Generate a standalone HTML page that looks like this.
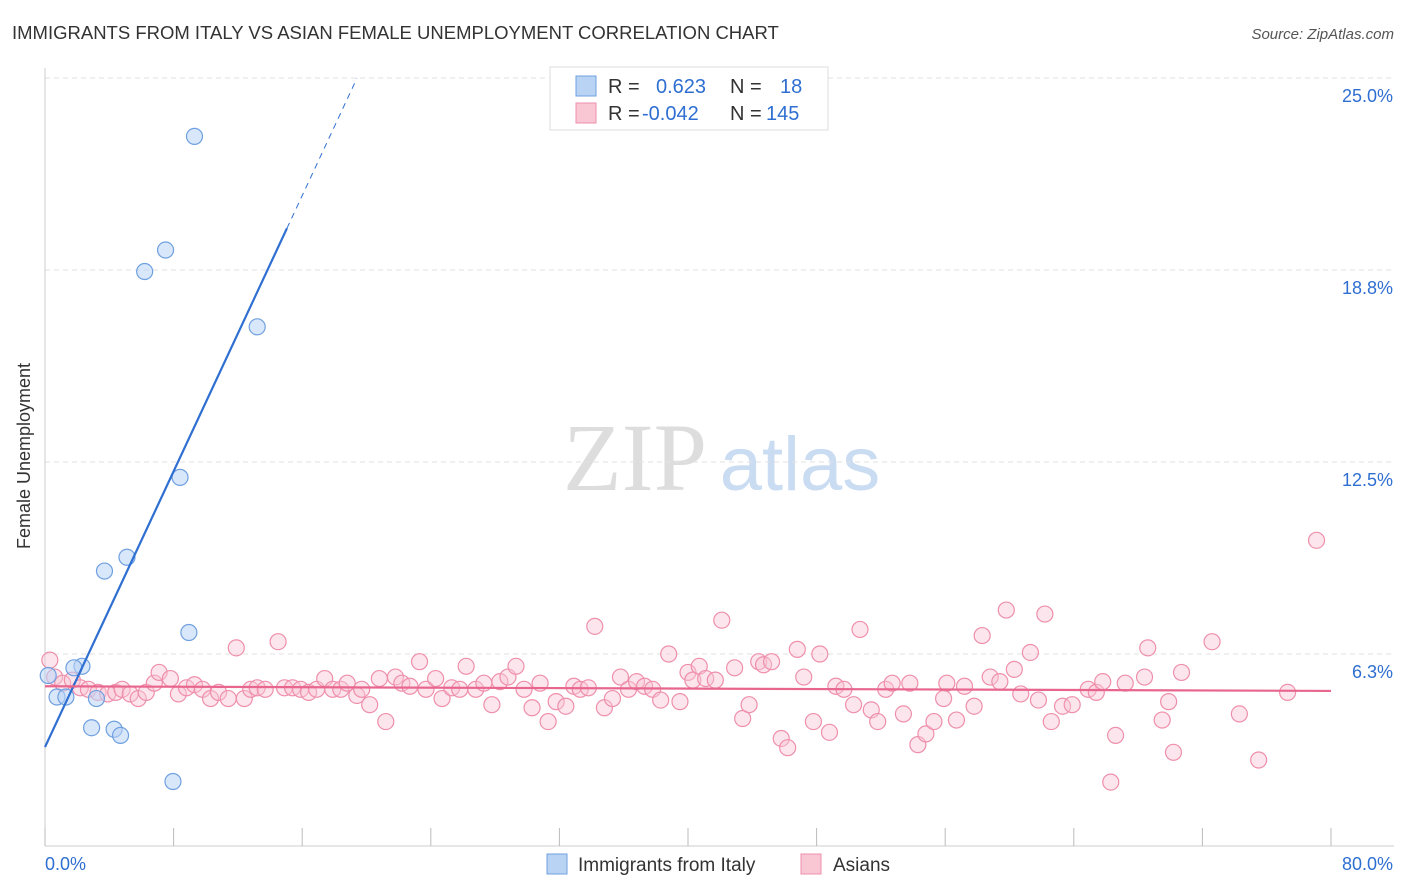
<!DOCTYPE html>
<html><head><meta charset="utf-8">
<style>
body{margin:0;background:#fff;font-family:"Liberation Sans",sans-serif;}
svg{display:block}
</style></head>
<body>
<svg id="chart" width="1406" height="892">
<text x="12" y="39" font-size="18.5" fill="#333">IMMIGRANTS FROM ITALY VS ASIAN FEMALE UNEMPLOYMENT CORRELATION CHART</text>
<text x="1394" y="39" font-size="15" fill="#555" text-anchor="end" font-style="italic">Source: ZipAtlas.com</text>
<text x="30" y="456" font-size="18" fill="#333" text-anchor="middle" transform="rotate(-90 30 456)">Female Unemployment</text>
<g>
<text x="635" y="490" font-size="96" fill="#ddd" text-anchor="middle" font-family="Liberation Serif,serif">ZIP</text>
<text x="800" y="490" font-size="76" fill="#c9dcf2" text-anchor="middle">atlas</text>
</g>
<g id="grid"></g><g id="axes"></g><g id="pink"></g><g id="blue"></g><g id="lines"></g>
<g>
<rect x="550" y="67" width="278" height="63" fill="#fff" stroke="#ddd"/>
<rect x="576" y="76" width="20" height="20" fill="#b9d3f5" stroke="#6fa0e0"/>
<rect x="576" y="103" width="20" height="20" fill="#f9c6d4" stroke="#ee8fab"/>
<text x="608" y="93" font-size="20" fill="#333">R = <tspan x="656" fill="#2f6fd1">0.623</tspan><tspan x="730" fill="#333">N =</tspan><tspan x="780" fill="#2f6fd1">18</tspan></text>
<text x="608" y="120" font-size="20" fill="#333">R = <tspan x="642" fill="#2f6fd1">-0.042</tspan><tspan x="730" fill="#333">N =</tspan><tspan x="766" fill="#2f6fd1">145</tspan></text>
</g>
<g>
<rect x="547" y="854" width="20" height="20" fill="#b9d3f5" stroke="#6fa0e0"/>
<text x="578" y="871" font-size="19" fill="#333">Immigrants from Italy</text>
<rect x="801" y="854" width="20" height="20" fill="#f9c6d4" stroke="#ee8fab"/>
<text x="833" y="871" font-size="19" fill="#333">Asians</text>
</g>
</svg>
<script>
const blueX=[9.3,7.5,6.2,13.2,8.4,5.1,3.7,8.95,2.3,1.8,0.2,0.75,1.3,3.2,2.9,4.3,4.7,7.96];
const blueY=[23.1,19.4,18.7,16.9,12.0,9.4,8.95,6.95,5.85,5.8,5.55,4.85,4.85,4.8,3.85,3.8,3.6,2.1];
const pinkX=[0.3,0.6,1.1,1.7,2.2,2.7,3.3,3.9,4.4,4.8,5.3,5.8,6.3,6.8,7.1,7.8,8.3,8.8,9.3,9.8,10.3,10.8,11.4,11.9,12.4,12.8,13.2,13.7,14.5,14.9,15.4,15.9,16.4,16.9,17.4,17.9,18.4,18.8,19.4,19.7,20.2,20.8,21.2,21.8,22.2,22.7,23.3,23.7,24.3,24.7,25.3,25.8,26.2,26.8,27.3,27.8,28.3,28.8,29.3,29.8,30.3,30.8,31.3,31.8,32.4,32.9,33.3,33.8,34.2,34.8,35.3,35.8,36.3,36.8,37.3,37.8,38.3,38.8,39.5,40.0,40.3,40.7,41.1,41.7,42.1,42.9,43.4,43.8,44.4,44.7,45.2,45.8,46.2,46.8,47.2,47.8,48.2,48.8,49.2,49.7,50.3,50.7,51.4,51.8,52.3,52.7,53.4,53.8,54.3,54.8,55.3,55.9,56.1,56.7,57.2,57.8,58.3,58.8,59.4,59.8,60.3,60.7,61.3,61.8,62.2,62.6,63.3,63.9,64.9,65.4,65.8,66.6,66.3,67.2,68.4,68.6,69.5,69.9,70.2,70.7,72.6,74.3,75.5,77.3,79.1];
const pinkY=[6.05,5.5,5.3,5.4,5.15,5.1,5.0,4.95,5.0,5.1,4.95,4.8,5.0,5.3,5.65,5.45,4.95,5.15,5.25,5.1,4.8,5.0,4.8,6.45,4.8,5.1,5.15,5.1,6.65,5.15,5.15,5.1,5.0,5.1,5.45,5.1,5.1,5.3,4.9,5.1,4.6,5.45,4.05,5.5,5.3,5.2,6.0,5.1,5.45,4.8,5.15,5.1,5.85,5.1,5.3,4.6,5.35,5.5,5.85,5.1,4.5,5.3,4.05,4.7,4.55,5.2,5.1,5.15,7.15,4.5,4.8,5.5,5.1,5.35,5.2,5.1,4.75,6.25,4.7,5.65,5.4,5.85,5.45,5.4,7.35,5.8,4.15,4.6,6.0,5.9,6.0,3.5,3.2,6.4,5.5,4.05,6.25,3.7,5.2,5.1,4.6,7.05,4.43,4.05,5.1,5.3,4.3,5.3,3.3,3.65,4.05,4.8,5.3,4.1,5.2,4.55,6.85,5.5,5.35,7.68,5.75,4.95,6.3,4.75,7.55,4.05,4.55,4.6,5.1,5.0,5.35,3.6,2.08,5.3,5.5,6.45,4.1,4.7,3.05,5.65,6.65,4.3,2.8,5.0,9.95];
const yTicks=[25,18.75,12.5,6.25];
const yTickLabels=["25.0%","18.8%","12.5%","6.3%"];
const blueFit=[3.22,1.122];
const pinkFit=[5.2,-0.0019];
const NS='http://www.w3.org/2000/svg';
const X=v=>45+v*16.075, Y=v=>846-v*30.72;
function mk(t,a,p){const e=document.createElementNS(NS,t);for(const k in a)e.setAttribute(k,a[k]);p.appendChild(e);return e;}
const grid=document.getElementById('grid'),axes=document.getElementById('axes');
yTicks.forEach((t,i)=>{
 const l=mk('line',{x1:45,x2:1394,y1:Y(t),y2:Y(t),stroke:'#e2e2e2','stroke-dasharray':'5,4'},grid);
 
 
 const tx=mk('text',{x:1393,y:Y(t)+24,'font-size':18,fill:'#2f6fd1','text-anchor':'end'},axes);
 tx.textContent=yTickLabels[i];
 
 
});
mk('line',{x1:45,x2:45,y1:68,y2:846,stroke:'#ccc'},axes);
mk('line',{x1:45,x2:1394,y1:846,y2:846,stroke:'#ccc'},axes);
for(let i=0;i<=10;i++){const t=mk('line',{x1:X(i*8),x2:X(i*8),y1:828,y2:846,stroke:'#bbb'},axes);
 
 }
let a=mk('text',{x:45,y:870,'font-size':18,fill:'#2f6fd1'},axes);a.textContent='0.0%';


a=mk('text',{x:1393,y:870,'font-size':18,fill:'#2f6fd1','text-anchor':'end'},axes);a.textContent='80.0%';


const pg=document.getElementById('pink');
pinkX.forEach((x,i)=>{const c=mk('circle',{cx:X(x),cy:Y(pinkY[i]),r:8,fill:'rgba(249,198,212,0.45)',stroke:'#ee8fab','stroke-width':1.2},pg);
 
 });
const bg=document.getElementById('blue');
blueX.forEach((x,i)=>{const c=mk('circle',{cx:X(x),cy:Y(blueY[i]),r:8,fill:'rgba(185,211,245,0.55)',stroke:'#6fa0e0','stroke-width':1.2},bg);
 
 });
const lg=document.getElementById('lines');
const bf=x=>blueFit[0]+blueFit[1]*x;
let l=mk('line',{x1:X(0),y1:Y(bf(0)),x2:X(15.05),y2:Y(bf(15.05)),stroke:'#2f6fd1','stroke-width':2.2},lg);


l=mk('line',{x1:X(15.05),y1:Y(bf(15.05)),x2:X(19.4),y2:Y(bf(19.4)),stroke:'#2f6fd1','stroke-width':1,'stroke-dasharray':'6,5'},lg);


const pf=x=>pinkFit[0]+pinkFit[1]*x;
l=mk('line',{x1:X(0),y1:Y(pf(0)),x2:X(80),y2:Y(pf(80)),stroke:'#e8668e','stroke-width':2.2},lg);


</script>
</body></html>
